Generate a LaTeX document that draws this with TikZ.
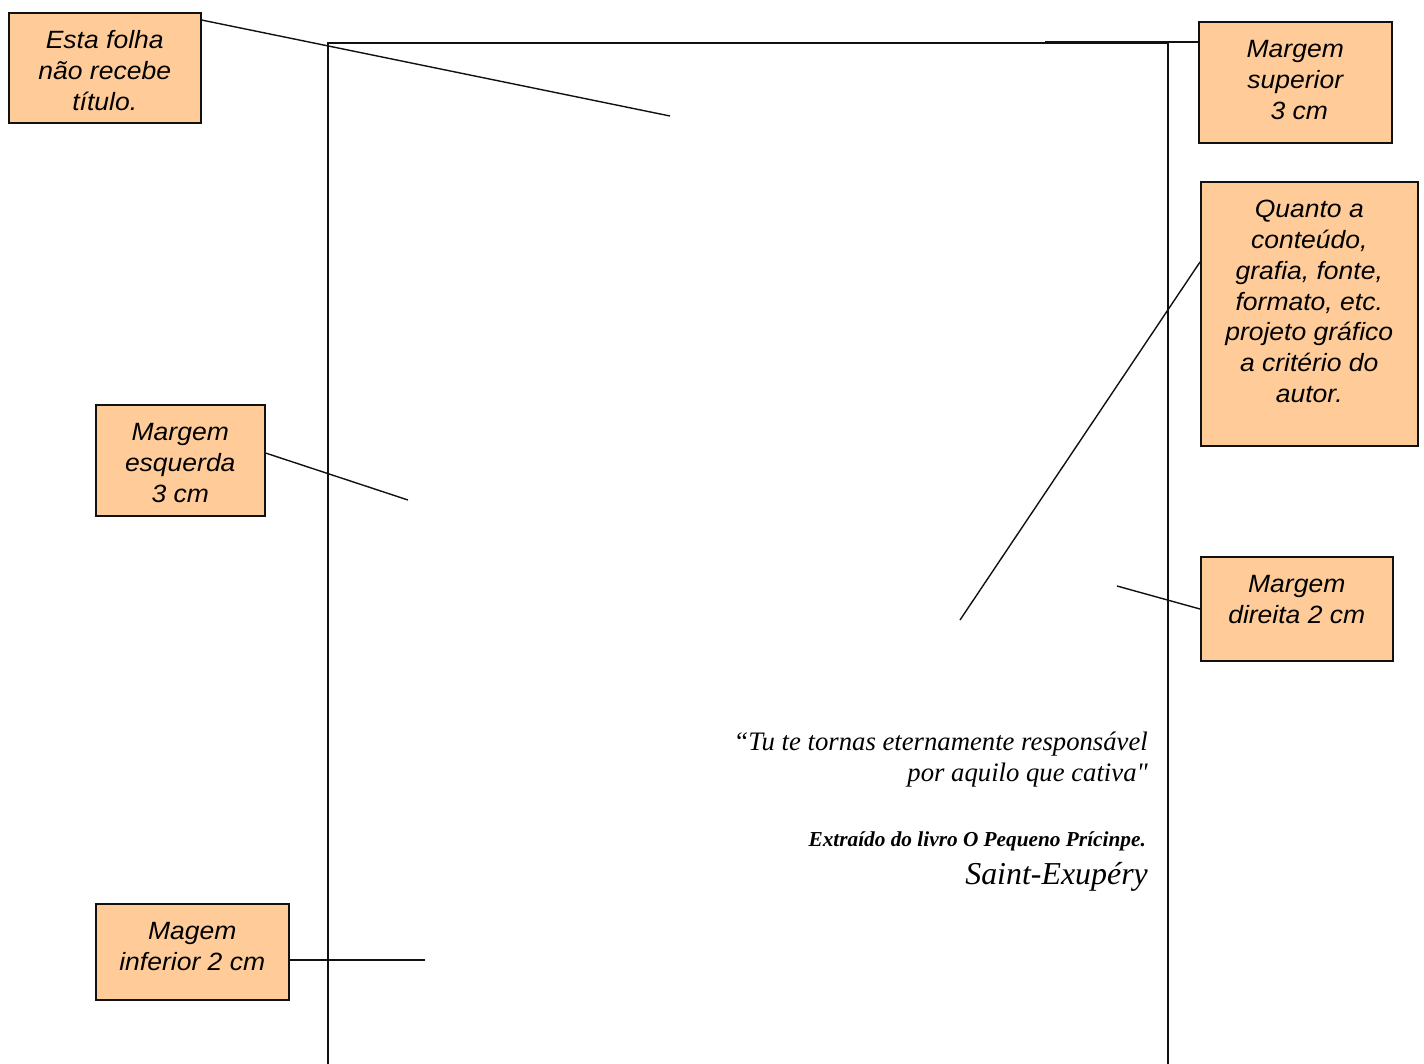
\documentclass[tikz,border=0pt]{standalone}
\usepackage{fontspec}
\setmainfont{Liberation Serif}[Ligatures=TeXOff]
\newfontfamily\notefont{Liberation Sans}[FakeStretch=1.06]
\definecolor{peach}{HTML}{FFCC99}
\definecolor{inkline}{HTML}{111111}
% text of a callout box: top-aligned, centred lines, first baseline 36pt below the top
\newcommand\notebody[3]{\parbox[c][#2][t]{#1}{\centering\fontsize{25}{30.8}\selectfont\notefont\itshape\rule{0pt}{36pt}#3\par}}
\tikzset{
  note/.style={draw=inkline, fill=peach, line width=1.5pt, inner sep=0pt, anchor=north west},
  lead/.style={draw=inkline, line width=1.4pt},
  sheet/.style={draw=inkline, line width=1.5pt},
  quote/.style={anchor=base east, inner sep=0pt, font=\fontsize{26.7}{31}\selectfont\itshape}
}
\begin{document}
\begin{tikzpicture}[x=1pt,y=-1pt]
\useasboundingbox (0,0) rectangle (1424,1063);
\fill[white] (0,0) rectangle (1424,1063);

% the sheet: left, top and right edges
\draw[sheet] (328,1070) -- (328,43) -- (1168,43) -- (1168,1070);

% callout boxes
\node[note] (b1) at (8,12) {\notebody{192pt}{110pt}{Esta folha\\não recebe\\título.}};
\node[note] (b2) at (1198,21) {\notebody{193pt}{121pt}{Margem\\superior\\\hspace*{8pt}3 cm}};
\node[note] (b3) at (1200,181) {\notebody{217pt}{264pt}{Quanto a\\conteúdo,\\grafia, fonte,\\formato, etc.\\projeto gráfico\\a critério do\\autor.}};
\node[note] (b4) at (95,404) {\notebody{169pt}{111pt}{Margem\\esquerda\\3 cm}};
\node[note] (b5) at (1200,556) {\notebody{192pt}{104pt}{Margem\\direita 2 cm}};
\node[note] (b6) at (95,903) {\notebody{193pt}{96pt}{Magem\\inferior 2 cm}};

% free ends of the leader lines
\coordinate (e1) at (670,116);
\coordinate (e2) at (1045,42);
\coordinate (e3) at (960,620);
\coordinate (e4) at (408,500);
\coordinate (e5) at (1117,586);
\coordinate (e6) at (425,960);

\draw[lead] ([yshift=-8pt]b1.north east) -- (e1);
\draw[lead] ([yshift=-21pt]b2.north west) -- (e2);
\draw[lead] ([yshift=-81pt]b3.north west) -- (e3);
\draw[lead] ([yshift=-49pt]b4.north east) -- (e4);
\draw[lead] ([yshift=-53pt]b5.north west) -- (e5);
\draw[lead] ([yshift=-57pt]b6.north east) -- (e6);

% epigraph
\node[quote] (q1) at (1148,750) {“Tu te tornas eternamente responsável};
\node[quote] (q2) at (1148,781) {por aquilo que cativa"};
\node[anchor=base east, inner sep=0pt, font=\fontsize{21.3}{24}\selectfont\bfseries\itshape] (src) at (1146,846) {Extraído do livro O Pequeno Prícinpe.};
\node[anchor=base east, inner sep=0pt, font=\fontsize{31.9}{36}\selectfont\itshape] (auth) at (1148,884) {Saint-Exupéry};
\end{tikzpicture}
\end{document}
